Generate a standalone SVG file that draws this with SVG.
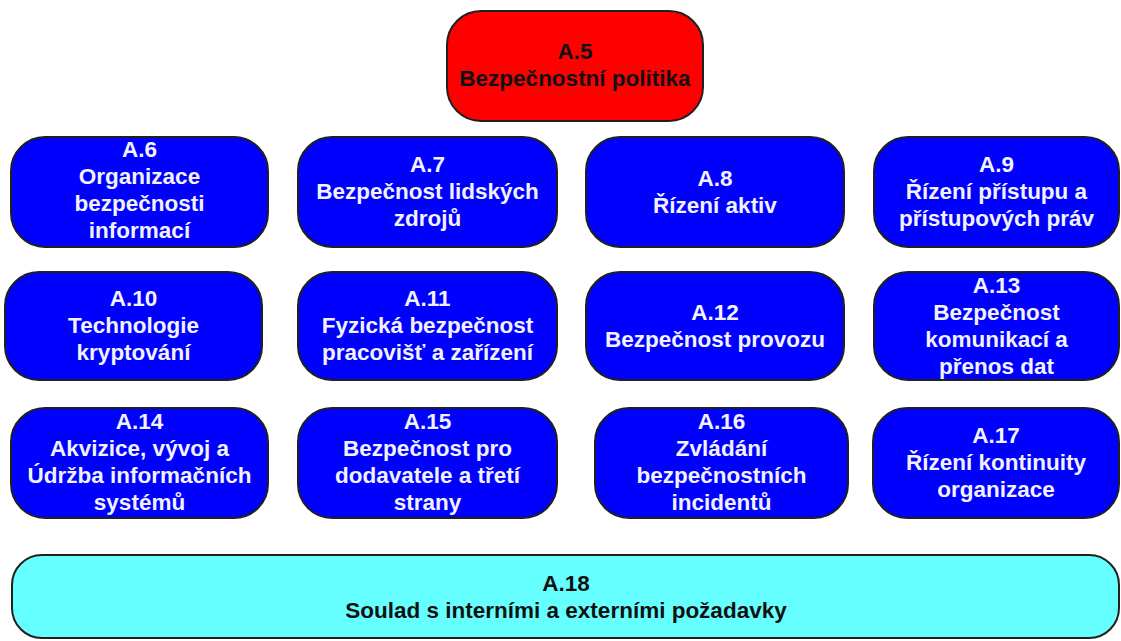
<svg xmlns="http://www.w3.org/2000/svg" width="1121" height="641" viewBox="0 0 1121 641">
<style>
.b{stroke:#202020;stroke-width:2}
.red{fill:#FF0000}
.blue{fill:#0000FF}
.cyan{fill:#66FFFF}
text{font-family:"Liberation Sans",Arial,sans-serif;font-weight:bold;font-size:22.5px;text-anchor:middle}
.w{fill:#F2F2FF}
.k{fill:#111111}
</style>
<rect width="1121" height="641" fill="#FFFFFF"/>
<g id="connectors"></g>
<g id="A5">
<rect class="b red" x="447" y="11" width="256" height="110" rx="34"/>
<text class="k" x="575" y="59">A.5</text>
<text class="k" x="575" y="86">Bezpečnostní politika</text>
</g>
<g id="A6">
<rect class="b blue" x="11" y="137" width="257" height="110" rx="34"/>
<text class="w" x="139.5" y="157">A.6</text>
<text class="w" x="139.5" y="184">Organizace</text>
<text class="w" x="139.5" y="211">bezpečnosti</text>
<text class="w" x="139.5" y="238">informací</text>
</g>
<g id="A7">
<rect class="b blue" x="298" y="137" width="259" height="110" rx="34"/>
<text class="w" x="427.5" y="172">A.7</text>
<text class="w" x="427.5" y="199">Bezpečnost lidských</text>
<text class="w" x="427.5" y="226">zdrojů</text>
</g>
<g id="A8">
<rect class="b blue" x="586" y="137" width="258" height="110" rx="34"/>
<text class="w" x="715" y="186">A.8</text>
<text class="w" x="715" y="213">Řízení aktiv</text>
</g>
<g id="A9">
<rect class="b blue" x="874" y="137" width="245" height="110" rx="34"/>
<text class="w" x="996.5" y="172">A.9</text>
<text class="w" x="996.5" y="199">Řízení přístupu a</text>
<text class="w" x="996.5" y="226">přístupových práv</text>
</g>
<g id="A10">
<rect class="b blue" x="5" y="272" width="257" height="108" rx="34"/>
<text class="w" x="133.5" y="306">A.10</text>
<text class="w" x="133.5" y="333">Technologie</text>
<text class="w" x="133.5" y="360">kryptování</text>
</g>
<g id="A11">
<rect class="b blue" x="298" y="272" width="259" height="108" rx="34"/>
<text class="w" x="427.5" y="306">A.11</text>
<text class="w" x="427.5" y="333">Fyzická bezpečnost</text>
<text class="w" x="427.5" y="360">pracovišť a zařízení</text>
</g>
<g id="A12">
<rect class="b blue" x="586" y="272" width="258" height="108" rx="34"/>
<text class="w" x="715" y="320">A.12</text>
<text class="w" x="715" y="347">Bezpečnost provozu</text>
</g>
<g id="A13">
<rect class="b blue" x="874" y="272" width="245" height="108" rx="34"/>
<text class="w" x="996.5" y="293">A.13</text>
<text class="w" x="996.5" y="320">Bezpečnost</text>
<text class="w" x="996.5" y="347">komunikací a</text>
<text class="w" x="996.5" y="374">přenos dat</text>
</g>
<g id="A14">
<rect class="b blue" x="11" y="408" width="257" height="110" rx="34"/>
<text class="w" x="139.5" y="429">A.14</text>
<text class="w" x="139.5" y="456">Akvizice, vývoj a</text>
<text class="w" x="139.5" y="483">Údržba informačních</text>
<text class="w" x="139.5" y="510">systémů</text>
</g>
<g id="A15">
<rect class="b blue" x="298" y="408" width="259" height="110" rx="34"/>
<text class="w" x="427.5" y="429">A.15</text>
<text class="w" x="427.5" y="456">Bezpečnost pro</text>
<text class="w" x="427.5" y="483">dodavatele a třetí</text>
<text class="w" x="427.5" y="510">strany</text>
</g>
<g id="A16">
<rect class="b blue" x="595" y="408" width="253" height="110" rx="34"/>
<text class="w" x="721.5" y="429">A.16</text>
<text class="w" x="721.5" y="456">Zvládání</text>
<text class="w" x="721.5" y="483">bezpečnostních</text>
<text class="w" x="721.5" y="510">incidentů</text>
</g>
<g id="A17">
<rect class="b blue" x="873" y="408" width="246" height="110" rx="34"/>
<text class="w" x="996" y="443">A.17</text>
<text class="w" x="996" y="470">Řízení kontinuity</text>
<text class="w" x="996" y="497">organizace</text>
</g>
<g id="A18">
<rect class="b cyan" x="12" y="555" width="1107" height="83" rx="30"/>
<text class="k" x="566" y="591">A.18</text>
<text class="k" x="566" y="618">Soulad s interními a externími požadavky</text>
</g>
</svg>
